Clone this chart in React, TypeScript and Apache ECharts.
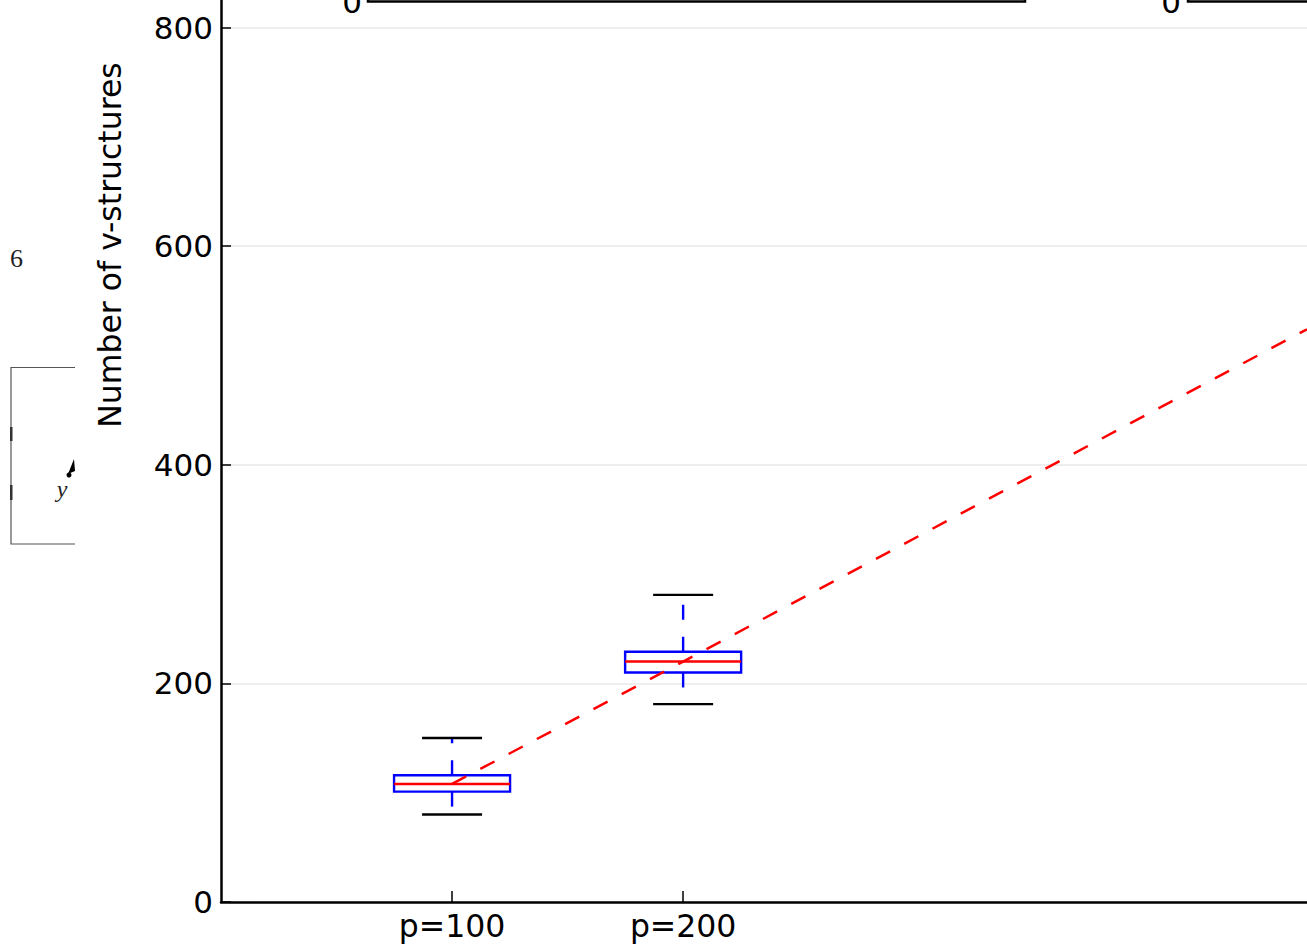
import React, { useEffect, useRef } from "react";
import * as echarts from "echarts";

// ---- data ----
const pValues = [100, 200];
const lowerCaps = [80, 181];
const q1Values = [101, 210];
const medianValues = [108, 220];
const q3Values = [116, 229];
const upperCaps = [150, 281];
const trendP = [100, 200, 470];
const trendValues = [108, 220, 524];
const yAxisTitle = "Number of v-structures";

const OFF = 191; // chart div starts above the page top

export default function App() {
  const ref = useRef<HTMLDivElement>(null);

  useEffect(() => {
    if (!ref.current) return;
    const chart = echarts.init(ref.current, null, { renderer: "svg" });

    const boxData = pValues.map((p, i) => [
      p,
      lowerCaps[i],
      q1Values[i],
      medianValues[i],
      q3Values[i],
      upperCaps[i],
    ]);
    const trendData = trendP.map((p, i) => [p, trendValues[i]]);

    const font = "DejaVu Sans";

    const option: any = {
      animation: false,
      backgroundColor: "#ffffff",
      grid: {
        left: 221,
        right: 0,
        top: 0,
        bottom: 42,
        containLabel: false,
        outerBoundsMode: "none",
      },
      xAxis: {
        type: "value",
        min: 0,
        max: 470,
        interval: 100,
        axisLine: { show: true, lineStyle: { color: "#000", width: 2.5 } },
        axisTick: {
          show: true,
          inside: true,
          length: 11,
          customValues: pValues,
          lineStyle: { color: "#000", width: 1.5 },
        },
        axisLabel: {
          customValues: pValues,
          formatter: (v: number) => "p=" + v,
          color: "#000",
          fontFamily: font,
          fontSize: 31.5,
          margin: 8,
        },
        splitLine: { show: false },
      },
      yAxis: {
        type: "value",
        min: 0,
        max: 1000,
        interval: 200,
        axisLine: { show: true, lineStyle: { color: "#000", width: 2.5 } },
        axisTick: {
          show: true,
          inside: true,
          length: 10,
          lineStyle: { color: "#000", width: 1.5 },
        },
        axisLabel: {
          color: "#000",
          fontFamily: font,
          fontSize: 31,
          margin: 8,
          showMaxLabel: false,
        },
        splitLine: { show: true, lineStyle: { color: "#e8e8e8", width: 1.5 } },
      },
      graphic: [
        // axis title
        {
          type: "text",
          x: 110,
          y: 245 + OFF,
          rotation: Math.PI / 2,
          style: {
            text: yAxisTitle,
            fill: "#000",
            font: `31.5px "${font}"`,
            align: "center",
            verticalAlign: "middle",
          },
        },
        // fragments of neighbouring panels at the top
        {
          type: "text",
          x: 352,
          y: 2 + OFF,
          style: {
            text: "0",
            fill: "#000",
            font: `31px "${font}"`,
            align: "center",
            verticalAlign: "middle",
          },
        },
        {
          type: "rect",
          shape: { x: 368, y: -60 + OFF, width: 657, height: 61.5 },
          style: { fill: "none", stroke: "#000", lineWidth: 2.5 },
        },
        {
          type: "text",
          x: 1171,
          y: 2 + OFF,
          style: {
            text: "0",
            fill: "#000",
            font: `31px "${font}"`,
            align: "center",
            verticalAlign: "middle",
          },
        },
        {
          type: "rect",
          shape: { x: 1188, y: -60 + OFF, width: 200, height: 61.5 },
          style: { fill: "none", stroke: "#000", lineWidth: 2.5 },
        },
        // fragment of a panel on the left
        {
          type: "text",
          x: 16.5,
          y: 258 + OFF,
          style: {
            text: "6",
            fill: "#222",
            font: `26px "Liberation Serif"`,
            align: "center",
            verticalAlign: "middle",
          },
        },
        {
          type: "polyline",
          shape: {
            points: [
              [75, 367.5 + OFF],
              [11, 367.5 + OFF],
              [11, 544 + OFF],
              [75, 544 + OFF],
            ],
          },
          style: { fill: "none", stroke: "#555", lineWidth: 1.2 },
        },
        {
          type: "rect",
          shape: { x: 10, y: 427 + OFF, width: 2.5, height: 14 },
          style: { fill: "#333" },
        },
        {
          type: "rect",
          shape: { x: 10, y: 485 + OFF, width: 2.5, height: 15 },
          style: { fill: "#333" },
        },
        {
          type: "text",
          x: 62,
          y: 489 + OFF,
          style: {
            text: "y",
            fill: "#222",
            font: `italic 24px "Liberation Serif"`,
            align: "center",
            verticalAlign: "middle",
          },
        },
        {
          type: "circle",
          shape: { cx: 69, cy: 475 + OFF, r: 2.5 },
          style: { fill: "#000" },
        },
        {
          type: "polygon",
          shape: {
            points: [
              [68, 474 + OFF],
              [74, 459 + OFF],
              [75, 471 + OFF],
            ],
          },
          style: { fill: "#000" },
        },
      ],
      series: [
        {
          type: "custom",
          clip: true,
          z: 2,
          data: boxData,
          encode: { x: 0, y: [1, 2, 3, 4, 5] },
          renderItem: (params: any, api: any) => {
            const x = api.value(0);
            const low = api.coord([x, api.value(1)]);
            const q1 = api.coord([x, api.value(2)]);
            const med = api.coord([x, api.value(3)]);
            const q3 = api.coord([x, api.value(4)]);
            const high = api.coord([x, api.value(5)]);
            const cx = low[0];
            const halfBox = 58;
            const halfCap = 30;
            const blue = "#0000ff";
            return {
              type: "group",
              children: [
                {
                  type: "line",
                  shape: { x1: cx, y1: q3[1], x2: cx, y2: high[1] },
                  style: { stroke: blue, lineWidth: 2.4, lineDash: [15, 17] },
                },
                {
                  type: "line",
                  shape: { x1: cx, y1: q1[1], x2: cx, y2: low[1] },
                  style: { stroke: blue, lineWidth: 2.4, lineDash: [15, 17] },
                },
                {
                  type: "line",
                  shape: { x1: cx - halfCap, y1: high[1], x2: cx + halfCap, y2: high[1] },
                  style: { stroke: "#000", lineWidth: 2.4 },
                },
                {
                  type: "line",
                  shape: { x1: cx - halfCap, y1: low[1], x2: cx + halfCap, y2: low[1] },
                  style: { stroke: "#000", lineWidth: 2.4 },
                },
                {
                  type: "rect",
                  shape: {
                    x: cx - halfBox,
                    y: q3[1],
                    width: halfBox * 2,
                    height: q1[1] - q3[1],
                  },
                  style: { fill: "none", stroke: blue, lineWidth: 2.4 },
                },
                {
                  type: "line",
                  shape: { x1: cx - halfBox, y1: med[1], x2: cx + halfBox, y2: med[1] },
                  style: { stroke: "#ff0000", lineWidth: 2.4 },
                },
              ],
            };
          },
        },
        {
          type: "line",
          z: 3,
          data: trendData,
          symbol: "none",
          clip: true,
          lineStyle: { color: "#ff0000", width: 2.5, type: [16, 16] },
        },
      ],
    };

    chart.setOption(option);
    return () => chart.dispose();
  }, []);

  return (
    <div
      style={{
        position: "fixed",
        left: 0,
        top: 0,
        width: 1307,
        height: 944,
        overflow: "hidden",
        background: "#fff",
      }}
    >
      <div
        ref={ref}
        style={{
          position: "absolute",
          left: 0,
          top: -OFF,
          width: 1307,
          height: 944 + OFF,
        }}
      />
    </div>
  );
}
